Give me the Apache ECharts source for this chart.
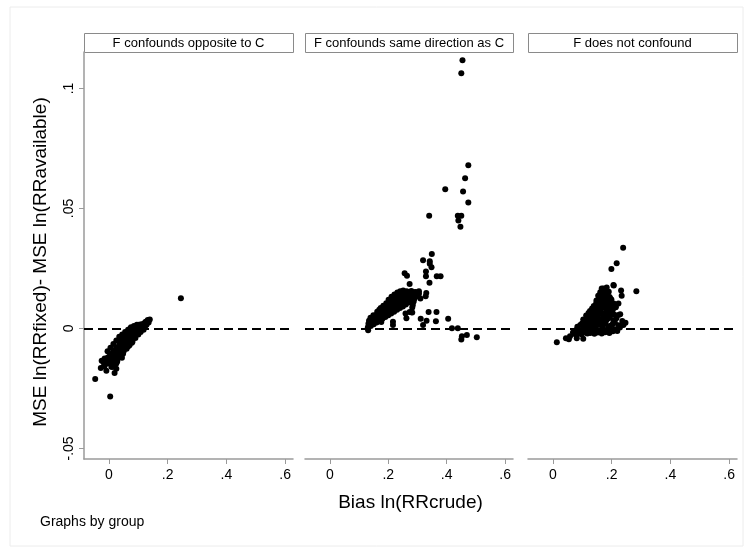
<!DOCTYPE html>
<html>
<head>
<meta charset="utf-8">
<script src="https://cdn.jsdelivr.net/npm/echarts@6/dist/echarts.min.js"></script>
<style>
html,body{margin:0;padding:0;background:#fff;}
#chart{width:749px;height:551px;}
</style>
</head>
<body>
<div id="chart"></div>
<script>
// ---- data ----
const panelTitles = ['F confounds opposite to C', 'F confounds same direction as C', 'F does not confound'];
const xTitle = 'Bias ln(RRcrude)';
const yTitle = 'MSE ln(RRfixed)- MSE ln(RRavailable)';
const note = 'Graphs by group';
const xTicks = [0, 0.2, 0.4, 0.6];
const xTickLabels = ['0', '.2', '.4', '.6'];
const yTicks = [-0.05, 0, 0.05, 0.1];
const yTickLabels = ['-.05', '0', '.05', '.1'];
const refLineY = 0;

const oppositeData = [
[0.245,0.0126],[-0.047,-0.0211],[0.004,-0.0284],[-0.028,-0.0165],[-0.009,-0.0176],[0.019,-0.0186],[-0.015,-0.0155],[0.01,-0.016],[0.0,-0.0145],[0.025,-0.0168],
[0.139,0.0037],[0.132,0.0035],[0.125,0.0028],[0.12,0.0022],[0.128,0.0015],[0.115,0.0012],[0.11,0.0018],[0.105,0.0008],[0.1,0.0003],[0.112,0.0003],
[0.095,0.0002],[0.09,-0.0005],[0.098,-0.0012],[0.085,-0.0008],[0.08,-0.0015],[0.088,-0.0022],[0.075,-0.001],[0.07,-0.0025],[0.078,-0.003],[0.065,-0.002],
[0.06,-0.0035],[0.068,-0.0042],[0.072,-0.0048],[0.055,-0.003],[0.05,-0.0045],[0.058,-0.0055],[0.062,-0.006],[0.045,-0.0052],[0.04,-0.006],[0.048,-0.007],
[0.052,-0.0075],[0.035,-0.0068],[0.03,-0.0078],[0.038,-0.0085],[0.042,-0.009],[0.025,-0.0082],[0.02,-0.009],[0.028,-0.0095],[0.033,-0.0102],[0.015,-0.0098],
[0.01,-0.0105],[0.018,-0.011],[0.022,-0.0118],[0.005,-0.011],[0.0,-0.0118],[0.008,-0.0125],[0.012,-0.013],[-0.005,-0.0122],[-0.01,-0.013],[-0.002,-0.0135],
[0.004,-0.0142],[-0.015,-0.0125],[-0.02,-0.0138],[-0.012,-0.0148],[-0.025,-0.0135],[0.03,-0.0125],[0.04,-0.011],[0.05,-0.0095],[0.06,-0.0085],[0.07,-0.007],
[0.08,-0.0055],[0.09,-0.004],[0.1,-0.0025],[0.108,-0.0015],[0.118,-0.0005],[0.045,-0.0025],[0.055,-0.0015],[0.065,-0.0005],[0.075,0.0005],[0.085,0.001],
[0.095,0.0015],[0.035,-0.0035],[0.025,-0.005],[0.015,-0.0065],[0.005,-0.008],[-0.005,-0.0095],[0.092,-0.0025],[0.082,-0.0035],[0.072,-0.0045],[0.062,-0.0048],
[0.052,-0.0058],[0.042,-0.0072],[0.032,-0.0088],[0.022,-0.0105],[0.012,-0.0115],[0.002,-0.0128],[0.0725,0.0],[0.102,0.0015],[0.058,-0.0068],[0.038,-0.0055],
[0.016,-0.0142],[0.028,-0.0138],[0.044,-0.0122],[0.008,-0.016],[-0.018,-0.0158],[0.135,0.0025],[0.122,0.0005],[0.048,-0.0105],[0.065,-0.0075],[0.078,-0.006],
[0.014,-0.016],[0.025,-0.0146],[-0.009,-0.0135]
];

const sameData = [
[0.13,0.0005],[0.132,0.002],[0.134,0.0032],[0.14,0.001],[0.142,0.0028],[0.139,0.0045],[0.15,0.0018],[0.151,0.0035],[0.149,0.0055],[0.153,0.0048],
[0.16,0.0025],[0.158,0.004],[0.161,0.0058],[0.162,0.007],[0.17,0.0032],[0.168,0.0048],[0.172,0.0062],[0.169,0.0078],[0.174,0.0085],
[0.18,0.004],[0.178,0.0055],[0.182,0.0068],[0.179,0.0082],[0.183,0.0095],[0.19,0.0048],[0.188,0.0062],[0.192,0.0075],[0.189,0.009],[0.193,0.0105],
[0.2,0.0055],[0.198,0.007],[0.202,0.0085],[0.199,0.0098],[0.203,0.0112],[0.201,0.012],[0.21,0.0062],[0.208,0.0078],[0.212,0.0092],[0.209,0.0106],[0.213,0.012],[0.211,0.0132],
[0.22,0.007],[0.218,0.0085],[0.222,0.01],[0.219,0.0113],[0.223,0.0127],[0.221,0.0142],[0.23,0.0078],[0.228,0.0092],[0.232,0.0106],[0.229,0.012],[0.233,0.0134],[0.231,0.015],
[0.24,0.0085],[0.238,0.01],[0.242,0.0115],[0.239,0.0128],[0.243,0.0142],[0.241,0.0155],[0.25,0.0092],[0.248,0.0108],[0.252,0.0122],[0.249,0.0136],[0.253,0.0148],[0.251,0.0158],
[0.26,0.01],[0.258,0.0115],[0.262,0.0128],[0.259,0.0142],[0.263,0.0155],[0.27,0.0108],[0.268,0.0122],[0.272,0.0136],[0.269,0.0148],
[0.28,0.0118],[0.278,0.0132],[0.282,0.0145],[0.279,0.0156],[0.29,0.0125],[0.288,0.014],[0.292,0.0152],[0.3,0.0135],[0.298,0.015],[0.305,0.0145],
[0.216,0.0014],[0.216,0.0028],[0.176,0.0027],[0.131,-0.0008],[0.262,0.0043],[0.279,0.0068],[0.259,0.0062],[0.273,0.0069],[0.284,0.0098],[0.287,0.0112],
[0.281,0.012],[0.284,0.0148],[0.273,0.0185],[0.256,0.023],[0.264,0.022],[0.311,0.004],[0.331,0.0032],[0.319,0.0014],[0.338,0.0069],[0.365,0.0069],
[0.363,0.003],[0.405,0.004],[0.418,0.0001],[0.438,0.0001],[0.452,-0.0032],[0.45,-0.0046],[0.469,-0.0027],[0.503,-0.0037],[0.282,0.0106],[0.282,0.0087],
[0.282,0.0066],[0.29,0.015],[0.276,0.0153],[0.33,0.0148],[0.328,0.0134],[0.341,0.019],[0.329,0.0237],[0.329,0.0218],[0.366,0.0218],[0.379,0.0218],
[0.349,0.031],[0.319,0.0284],[0.342,0.028],[0.348,0.0255],[0.342,0.027],[0.34,0.047],[0.438,0.047],[0.44,0.045],[0.45,0.047],[0.447,0.0424],
[0.395,0.058],[0.456,0.0571],[0.474,0.0525],[0.463,0.0626],[0.474,0.068],[0.454,0.1118],[0.45,0.1063],[0.31,0.0125],[0.305,0.0155]
];

const noneData = [
[0.239,0.0336],[0.217,0.0272],[0.199,0.0248],[0.284,0.0155],[0.207,0.0179],[0.232,0.0158],[0.234,0.0136],[0.172,0.0167],[0.19,0.0153],[0.223,0.0104],
[0.229,0.0059],[0.247,0.0024],[0.013,-0.0058],[0.044,-0.0041],[0.058,-0.0032],[0.081,-0.0041],[0.103,-0.0043],[0.054,-0.0045],[0.206,0.0181],[0.223,0.0056],
[0.149,0.011],[0.166,0.0167],[0.195,0.0125],[0.24,0.0014],[0.176,0.0162],[0.183,0.0171],[0.214,0.0088],[0.236,0.0031],
[0.068,-0.0017],[0.074,-0.0023],[0.079,-0.0006],[0.086,-0.0021],[0.091,-0.0009],[0.097,-0.0024],[0.102,-0.0003],[0.106,-0.0017],[0.112,-0.0011],[0.117,-0.0021],
[0.121,-0.0006],[0.127,-0.0019],[0.131,-0.0002],[0.137,-0.0014],[0.141,-0.0022],[0.146,-0.0004],[0.152,-0.0017],[0.157,-0.0008],[0.161,-0.0013],[0.166,-0.0021],
[0.171,-0.0004],[0.177,-0.0016],[0.182,-0.0007],[0.187,-0.0014],[0.192,-0.0019],[0.197,-0.0006],[0.204,-0.0012],[0.212,-0.0003],[0.219,-0.0011],[0.228,0.0004],
[0.083,0.0007],[0.093,0.0014],[0.099,0.0021],[0.108,0.0006],[0.118,0.0019],[0.126,0.0009],[0.138,0.0023],[0.147,0.0011],[0.159,0.0016],[0.168,0.0008],
[0.179,0.0022],[0.188,0.0006],[0.203,0.0017],[0.211,0.0024],[0.224,0.0013],[0.114,0.0009],[0.133,0.0016],[0.153,0.0026],[0.173,0.0019],[0.196,0.0011],
[0.103,0.0037],[0.109,0.0028],[0.116,0.0044],[0.124,0.0032],[0.134,0.0048],[0.143,0.0036],[0.154,0.0043],[0.163,0.0031],[0.174,0.0047],[0.183,0.0036],
[0.194,0.0048],[0.206,0.0033],[0.216,0.0042],[0.129,0.004],[0.149,0.0047],[0.169,0.0041],[0.189,0.0043],
[0.113,0.0054],[0.121,0.0064],[0.128,0.0057],[0.141,0.0066],[0.151,0.0053],[0.158,0.0068],[0.171,0.0056],[0.179,0.0066],[0.191,0.0061],[0.199,0.0069],[0.209,0.0057],
[0.134,0.0061],[0.146,0.0059],[0.164,0.0061],[0.186,0.0056],
[0.126,0.0073],[0.133,0.0083],[0.144,0.0076],[0.156,0.0086],[0.163,0.0079],[0.174,0.0088],[0.184,0.0076],[0.196,0.0084],[0.204,0.0078],[0.213,0.0091],
[0.151,0.0081],[0.168,0.0091],[0.189,0.0093],
[0.139,0.0094],[0.147,0.0103],[0.157,0.0097],[0.166,0.0106],[0.177,0.0101],[0.187,0.0109],[0.197,0.0099],[0.207,0.0104],[0.161,0.0114],[0.182,0.0118],
[0.148,0.0117],[0.157,0.0124],[0.169,0.0121],[0.176,0.0127],[0.189,0.0116],[0.199,0.0121],
[0.154,0.0136],[0.163,0.0141],[0.174,0.0146],[0.161,0.0151],[0.171,0.0134],[0.186,0.0137],[0.193,0.0131],[0.178,0.0155]
];

const panelData = [oppositeData, sameData, noneData];

// ---- layout ----
const FONT = 'Liberation Sans, Arial, Helvetica, sans-serif';
const grids = [
  {left: 84, top: 52, width: 209, height: 407},
  {left: 305, top: 52, width: 208, height: 407},
  {left: 528, top: 52, width: 209, height: 407}
];
const X_MIN = -0.0852, X_MAX = 0.627;
const Y_MIN = -0.0544, Y_MAX = 0.1152;
const AXIS_GRAY = '#9a9a9a';

function fmt(vals, labels) {
  return function (v) {
    for (let i = 0; i < vals.length; i++) if (Math.abs(vals[i] - v) < 1e-9) return labels[i];
    return '';
  };
}

const option = {
  animation: false,
  backgroundColor: '#fff',
  grid: grids.map(g => Object.assign({containLabel: false}, g)),
  xAxis: grids.map((g, i) => ({
    type: 'value', gridIndex: i, min: X_MIN, max: X_MAX,
    splitLine: {show: false},
    axisLine: {show: true, onZero: false, lineStyle: {color: AXIS_GRAY, width: 1.5}},
    axisTick: {show: true, length: 5, customValues: xTicks, lineStyle: {color: AXIS_GRAY, width: 1}},
    axisLabel: {show: true, customValues: xTicks, formatter: fmt(xTicks, xTickLabels), color: '#000', fontSize: 14, fontFamily: FONT, margin: 9}
  })),
  yAxis: grids.map((g, i) => ({
    type: 'value', gridIndex: i, min: Y_MIN, max: Y_MAX,
    splitLine: {show: false},
    axisLine: {show: i === 0, onZero: false, lineStyle: {color: AXIS_GRAY, width: 1.5}},
    axisTick: {show: i === 0, length: 5, customValues: yTicks, lineStyle: {color: AXIS_GRAY, width: 1}},
    axisLabel: {show: i === 0, customValues: yTicks, formatter: fmt(yTicks, yTickLabels), rotate: 90, color: '#000', fontSize: 14, fontFamily: FONT, margin: 8}
  })),
  series: panelData.map((d, i) => ({
    type: 'scatter', xAxisIndex: i, yAxisIndex: i, data: d,
    symbol: 'circle', symbolSize: 6,
    itemStyle: {color: '#000', opacity: 1},
    silent: true,
    markLine: {
      silent: true, symbol: ['none', 'none'], label: {show: false},
      lineStyle: {color: '#000', width: 2, type: [9, 5]},
      emphasis: {disabled: true},
      data: [{yAxis: refLineY}]
    }
  })),
  graphic: [
    {type: 'rect', shape: {x: 10, y: 7, width: 733, height: 539}, style: {fill: 'none', stroke: '#ececec', lineWidth: 1}, z: -10}
  ].concat(grids.map((g, i) => ({
    type: 'rect', shape: {x: g.left + 0.5, y: 33.5, width: g.width, height: 19},
    style: {fill: '#fff', stroke: '#8a8a8a', lineWidth: 1}
  }))).concat(grids.map((g, i) => ({
    type: 'text', x: g.left + g.width / 2, y: 43.5,
    style: {text: panelTitles[i], fill: '#000', font: '13px ' + FONT, textAlign: 'center', textVerticalAlign: 'middle'}
  }))).concat([
    {type: 'text', x: 410.5, y: 503, style: {text: xTitle, fill: '#000', font: '19px ' + FONT, textAlign: 'center', textVerticalAlign: 'middle'}},
    {type: 'text', x: 41, y: 262, rotation: Math.PI / 2, style: {text: yTitle, fill: '#000', font: '19px ' + FONT, textAlign: 'center', textVerticalAlign: 'middle'}},
    {type: 'text', x: 40, y: 522, style: {text: note, fill: '#000', font: '14px ' + FONT, textAlign: 'left', textVerticalAlign: 'middle'}}
  ])
};

const chart = echarts.init(document.getElementById('chart'), null, {renderer: 'canvas'});
chart.setOption(option);
</script>
</body>
</html>
